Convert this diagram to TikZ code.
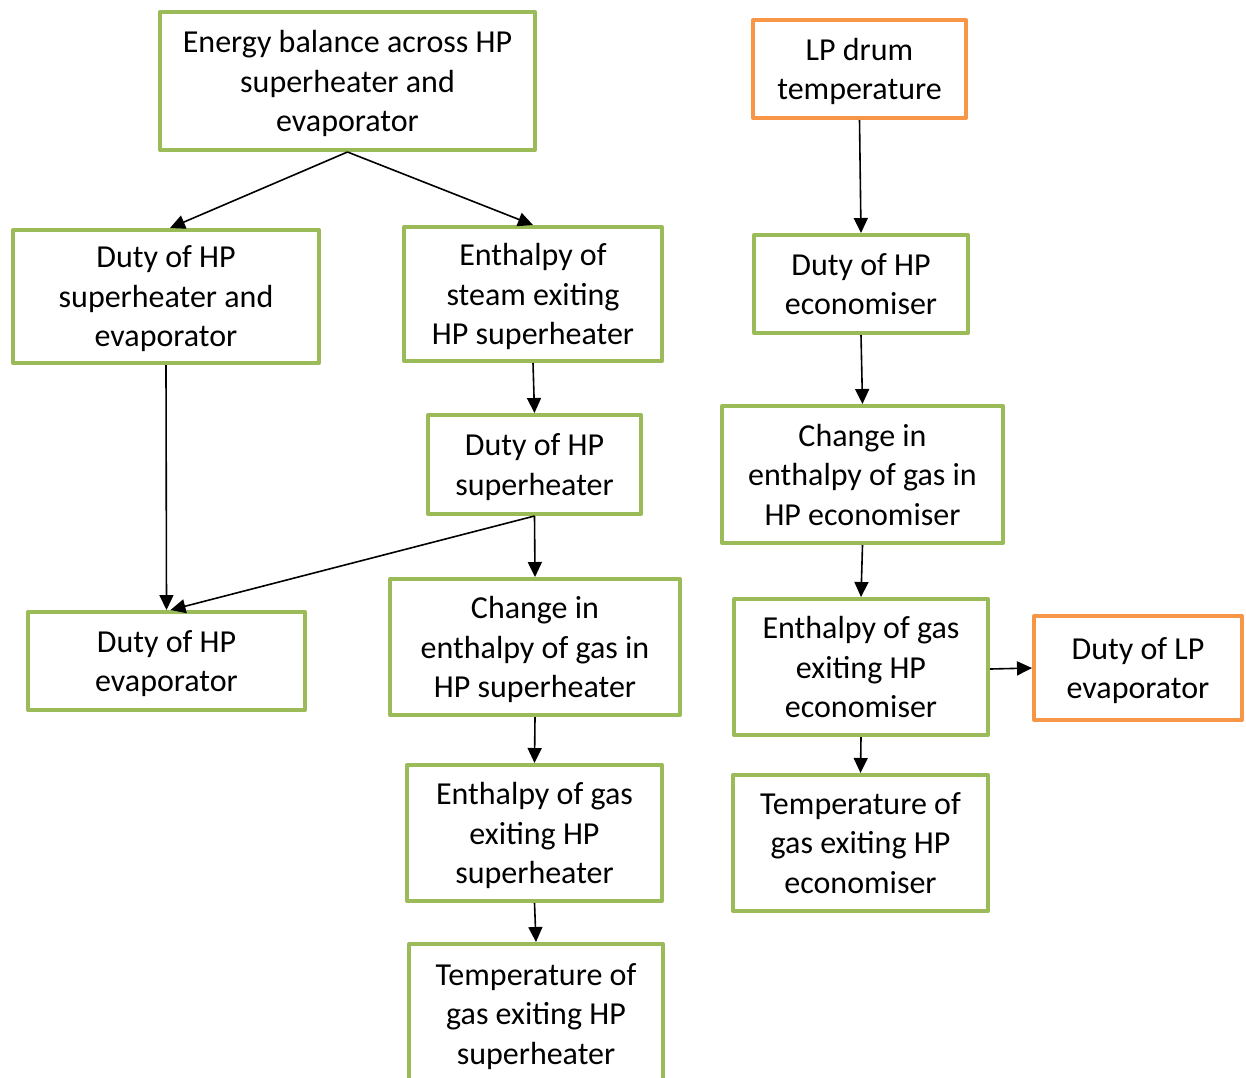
\documentclass[tikz,border=0pt]{standalone}
\usepackage{fontspec}
\setmainfont{Carlito}
\usetikzlibrary{arrows.meta}
\definecolor{boxgreen}{HTML}{9BBB59}
\definecolor{boxorange}{HTML}{F79646}
\begin{document}
\begin{tikzpicture}[x=1pt,y=-1pt,
  card/.style={draw=boxgreen, line width=4pt, line join=round, fill=white,
    align=center, inner sep=0pt, text depth=-2pt,
    font=\fontsize{32}{39.5}\selectfont},
  hot/.style={card, draw=boxorange},
  link/.style={line width=1.6pt, -{Triangle[length=15pt,width=14pt]}}]
\useasboundingbox (0,0) rectangle (1246,1077);
% left branch
\node[card, minimum width=375pt, minimum height=138pt] (bal) at (347.5,81)
  {Energy balance across HP\\superheater and\\evaporator};
\node[card, minimum width=306pt, minimum height=133pt] (dse) at (166,296.5)
  {Duty of HP\\superheater and\\evaporator};
\node[card, minimum width=258pt, minimum height=134pt] (hst) at (533,294)
  {Enthalpy of\\steam exiting\\HP superheater};
\node[card, minimum width=213pt, minimum height=99pt] (dsh) at (534.5,464.5)
  {Duty of HP\\superheater};
\node[card, minimum width=277pt, minimum height=98pt] (dev) at (166.5,661)
  {Duty of HP\\evaporator};
\node[card, minimum width=290pt, minimum height=136pt] (csh) at (535,647)
  {Change in\\enthalpy of gas in\\HP superheater};
\node[card, minimum width=255pt, minimum height=136pt] (gsh) at (534.5,833)
  {Enthalpy of gas\\exiting HP\\superheater};
\node[card, minimum width=254pt, minimum height=140pt] (tsh) at (536,1014)
  {Temperature of\\gas exiting HP\\superheater};
% right branch
\node[hot, minimum width=213pt, minimum height=98pt] (lpd) at (859.5,69)
  {LP drum\\temperature};
\node[card, minimum width=214pt, minimum height=98pt] (dec) at (861,284)
  {Duty of HP\\economiser};
\node[card, minimum width=281pt, minimum height=137pt] (cec) at (862.5,474.5)
  {Change in\\enthalpy of gas in\\HP economiser};
\node[card, minimum width=254pt, minimum height=136pt] (gec) at (861,667)
  {Enthalpy of gas\\exiting HP\\economiser};
\node[hot, minimum width=208pt, minimum height=104pt] (dlp) at (1138,668)
  {Duty of LP\\evaporator};
\node[card, minimum width=255pt, minimum height=136pt] (tec) at (860.5,843)
  {Temperature of\\gas exiting HP\\economiser};
% connectors
\draw[link] (bal.south) -- ([xshift=4pt]dse.north);
\draw[link] (bal.south) -- (hst.north);
\draw[link] (dse.south) -- (dev.north);
\draw[link] (hst.south) -- (dsh.north);
\draw[link] (dsh.south) -- ([xshift=4pt]dev.north);
\draw[link] (dsh.south) -- (csh.north);
\draw[link] (csh.south) -- (gsh.north);
\draw[link] (gsh.south) -- (tsh.north);
\draw[link] (lpd.south) -- (dec.north);
\draw[link] (dec.south) -- (cec.north);
\draw[link] (cec.south) -- (gec.north);
\draw[link] (gec.south) -- (tec.north);
\draw[link] ([yshift=-2pt]gec.east) -- (dlp.west);
\end{tikzpicture}
\end{document}
